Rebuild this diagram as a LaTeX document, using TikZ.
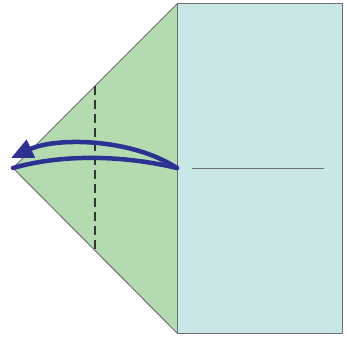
\documentclass[tikz,border=0pt]{standalone}
\usetikzlibrary{arrows.meta}
\definecolor{flapgreen}{RGB}{180,219,176}
\definecolor{paperblue}{RGB}{200,231,230}
\definecolor{edgegray}{RGB}{110,112,114}
\definecolor{arrowblue}{RGB}{46,49,146}
\begin{document}
\begin{tikzpicture}[
    x=1pt, y=-1pt,
    paper/.style={draw=edgegray, line width=1pt, line join=miter},
    crease/.style={draw=edgegray, line width=1pt},
    valley/.style={draw=black!80, line width=1.3pt, dash pattern=on 9pt off 5pt},
    foldarrow/.style={draw=arrowblue, line width=4.5pt, line cap=round},
]
\useasboundingbox (0,0) rectangle (347,339);
% corners of the paper
\coordinate (tl) at (177,4);
\coordinate (tr) at (342,4);
\coordinate (br) at (342,333);
\coordinate (bl) at (177,333);
\coordinate (tip) at (13,168);
\coordinate (mid) at (177,168);

\fill[paperblue] (tl) -- (tr) -- (br) -- (bl) -- cycle;
\fill[flapgreen] (tl) -- (tip) -- (bl) -- cycle;
\draw[paper] (tl) -- (tip) -- (bl);
\draw[paper] (tl) -- (tr) -- (br) -- (bl) -- cycle;

\draw[crease] (192,168) -- (324,168);
\draw[valley] (95,86) -- (95,251);

% fold and unfold
\draw[foldarrow] (mid) .. controls (120,154.5) and (60,154.5) .. (tip);
\draw[foldarrow, -{Triangle[length=22pt,width=19pt]}] (mid) .. controls (130,137.5) and (55,137.5) .. (11,158);
\end{tikzpicture}
\end{document}
